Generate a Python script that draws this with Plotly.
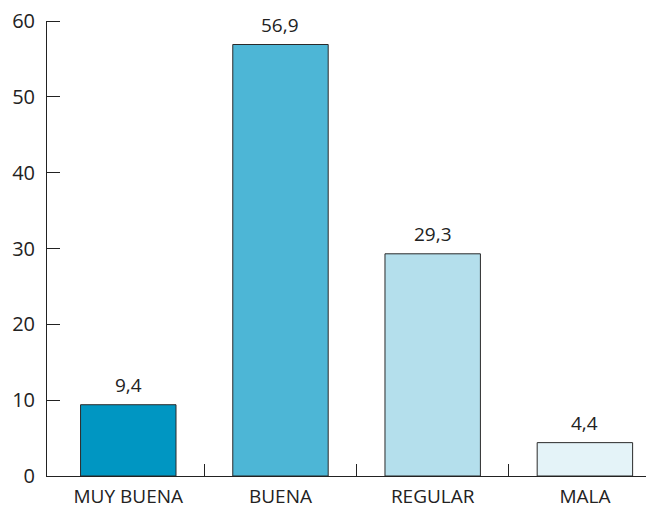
"""Valoración: barras por categoría"""
import plotly.graph_objects as go

categorias = ["MUY BUENA", "BUENA", "REGULAR", "MALA"]
porcentajes = [9.4, 56.9, 29.3, 4.4]
colores = ["#0096c2", "#4db6d6", "#b4dfec", "#e4f3f8"]
y_ticks = [0, 10, 20, 30, 40, 50, 60]

FONT = "Open Sans"
TINTA = "#222"

posiciones = list(range(len(categorias)))

fig = go.Figure()
fig.add_trace(go.Bar(
    x=posiciones,
    y=porcentajes,
    width=0.627,
    marker=dict(color=colores, line=dict(color="#2a2a2a", width=1)),
))

# etiquetas de valor sobre cada barra, con coma decimal
for _x, _v in zip(posiciones, porcentajes):
    fig.add_annotation(
        x=_x, y=_v, text=f"{_v:.1f}".replace(".", ","),
        showarrow=False, yanchor="bottom", yshift=5,
        font=dict(family=FONT, size=19, color=TINTA),
    )

# la página tiene 8px de margen en el body: se compensa aquí
fig.update_layout(
    width=646,
    height=500,
    margin=dict(l=39, r=0, t=13, b=32),
    paper_bgcolor="white",
    plot_bgcolor="white",
    showlegend=False,
    font=dict(family=FONT, size=19, color=TINTA),
)

fig.update_xaxes(
    range=[-0.534, 3.454],
    tickvals=posiciones,
    ticktext=categorias,
    ticks="outside",
    ticklen=3,
    tickcolor="rgba(0,0,0,0)",
    showgrid=False,
    zeroline=False,
    showline=True,
    linecolor=TINTA,
    linewidth=1,
    automargin=False,
    tickfont=dict(family=FONT, size=19, color=TINTA),
    minor=dict(tickvals=[0.5, 1.5, 2.5], ticks="inside", ticklen=12,
               tickcolor=TINTA, tickwidth=1, showgrid=False),
)

fig.update_yaxes(
    range=[0, 60],
    tickmode="array",
    tickvals=y_ticks,
    ticks="outside",
    ticklen=7,
    tickcolor="rgba(0,0,0,0)",
    showgrid=False,
    zeroline=False,
    showline=True,
    linecolor=TINTA,
    linewidth=1,
    automargin=False,
    ticklabeloverflow="allow",
    tickfont=dict(family=FONT, size=20, color=TINTA),
    minor=dict(tickvals=y_ticks, ticks="inside", ticklen=13,
               tickcolor=TINTA, tickwidth=1, showgrid=False),
)

fig.write_html("out.html")
